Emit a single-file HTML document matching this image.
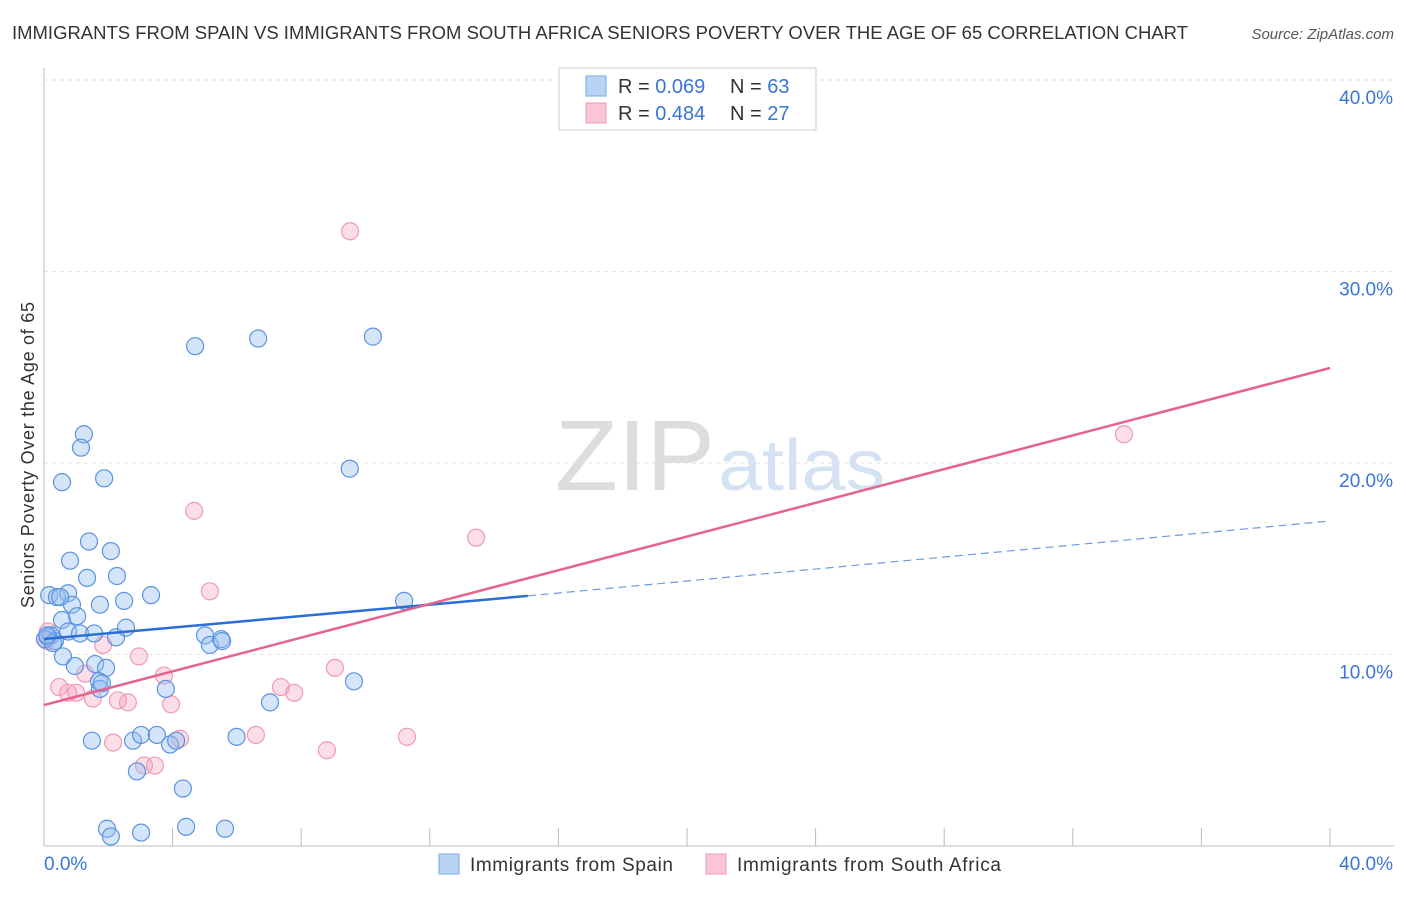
<!DOCTYPE html>
<html><head><meta charset="utf-8"><style>
body{margin:0;background:#fff;font-family:"Liberation Sans",sans-serif;}
svg text{font-family:"Liberation Sans",sans-serif;}
</style></head><body>
<svg id="c" width="1406" height="892">
<text x="12" y="39" font-size="18" fill="#333" textLength="1176" lengthAdjust="spacingAndGlyphs">IMMIGRANTS FROM SPAIN VS IMMIGRANTS FROM SOUTH AFRICA SENIORS POVERTY OVER THE AGE OF 65 CORRELATION CHART</text>
<text x="1394" y="39" font-size="15" fill="#555" font-style="italic" text-anchor="end">Source: ZipAtlas.com</text>
<text x="555" y="490" font-size="100" fill="#ddd" textLength="160" lengthAdjust="spacingAndGlyphs" font-family="Liberation Serif">ZIP</text>
<text x="718" y="490" font-size="72" fill="#d4e2f4" textLength="167" lengthAdjust="spacingAndGlyphs">atlas</text>
<text transform="translate(34,455) rotate(-90)" font-size="18" fill="#333" text-anchor="middle" textLength="306">Seniors Poverty Over the Age of 65</text>
<g id="grid"></g><g id="pts"></g><g id="lines"></g>
<g>
<rect x="559" y="68" width="257" height="62" fill="#fff" stroke="#ccc"/>
<rect x="586" y="76" width="20" height="20" fill="#b9d3f5" stroke="#7aaae8"/>
<rect x="586" y="103" width="20" height="20" fill="#f9c6d6" stroke="#ee9ab4"/>
<text x="618" y="93" font-size="20" fill="#333">R = <tspan fill="#3a75d6">0.069</tspan></text>
<text x="730" y="93" font-size="20" fill="#333">N = <tspan fill="#3a75d6">63</tspan></text>
<text x="618" y="120" font-size="20" fill="#333">R = <tspan fill="#3a75d6">0.484</tspan></text>
<text x="730" y="120" font-size="20" fill="#333">N = <tspan fill="#3a75d6">27</tspan></text>
</g>
<g>
<rect x="439" y="854" width="20" height="20" fill="#b9d3f5" stroke="#7aaae8"/>
<text x="470" y="871" font-size="19" fill="#333" textLength="203">Immigrants from Spain</text>
<rect x="706" y="854" width="20" height="20" fill="#f9c6d6" stroke="#ee9ab4"/>
<text x="737" y="871" font-size="19" fill="#333" textLength="264">Immigrants from South Africa</text>
</g>
</svg>
<script>
const yTicks=[10,20,30,40];
const xLabels=["0.0%","40.0%"];
const spainX=[0.16,0.40,0.75,0.87,0.56,0.12,0.22,0.34,0.59,0.96,0.75,1.03,1.12,1.34,1.40,1.24,1.15,0.56,1.87,0.81,2.08,2.27,1.74,2.49,1.56,2.24,2.55,3.33,1.59,1.93,1.71,1.74,1.80,3.79,1.49,2.77,3.02,3.51,3.92,4.11,2.89,4.32,1.96,2.08,3.02,4.42,5.63,4.70,6.66,10.23,9.51,11.20,5.01,5.16,5.51,5.54,9.64,7.03,5.99,0.50,0.03,0.28,0.10];
const spainY=[13.1,13.0,13.2,12.6,11.8,10.9,11.0,10.7,9.9,9.4,11.2,12.0,11.1,14.0,15.9,21.5,20.8,19.0,19.2,14.9,15.4,14.1,12.6,12.8,11.1,10.9,11.4,13.1,9.5,9.3,8.6,8.2,8.5,8.2,5.5,5.5,5.8,5.8,5.3,5.5,3.9,3.0,0.9,0.5,0.7,1.0,0.9,26.1,26.5,26.6,19.7,12.8,11.0,10.5,10.8,10.7,8.6,7.5,5.7,13.0,10.8,10.6,11.0];
const saX=[9.52,4.67,13.44,33.59,5.16,1.84,2.95,3.73,1.28,0.47,0.75,1.00,1.52,2.30,2.61,3.95,7.37,7.78,9.05,2.15,3.11,3.45,4.23,6.59,8.80,11.29,0.12,0.09];
const saY=[32.1,17.5,16.1,21.5,13.3,10.5,9.9,8.9,9.0,8.3,8.0,8.0,7.7,7.6,7.5,7.4,8.3,8.0,9.3,5.4,4.2,4.2,5.6,5.8,5.0,5.7,11.2,10.7];
const spainLine=[[0,10.81],[15.05,13.06],[40,16.97]];
const saLine=[[0,7.36],[40,24.96]];
const X=v=>44+v*32.15, Y=v=>846-v*19.15;
const NS="http://www.w3.org/2000/svg";
function mk(p,t,a){const e=document.createElementNS(NS,t);for(const k in a)e.setAttribute(k,a[k]);p.appendChild(e);return e;}
const g=document.getElementById('grid');
mk(g,'line',{x1:44,y1:68,x2:44,y2:846,stroke:'#bbb'});
mk(g,'line',{x1:44,y1:846,x2:1394,y2:846,stroke:'#bbb'});
for(let i=0;i<=10;i++){const t=mk(g,'line',{x1:44+i*128.6,y1:828,x2:44+i*128.6,y2:846,stroke:'#bbb'});

}
yTicks.forEach(v=>{mk(g,'line',{x1:44,y1:Y(v),x2:1394,y2:Y(v),stroke:'#e2e2e2','stroke-dasharray':'4,4'});
const t=mk(g,'text',{x:1393,y:Y(v)+24,'font-size':19,fill:'#3a75d6','text-anchor':'end'});t.textContent=v.toFixed(1)+'%';

});
const l0=mk(g,'text',{x:44,y:870,'font-size':19,fill:'#3a75d6'});l0.textContent=xLabels[0];


const l1=mk(g,'text',{x:1393,y:870,'font-size':19,fill:'#3a75d6','text-anchor':'end'});l1.textContent=xLabels[1];


const p=document.getElementById('pts');
saX.forEach((x,i)=>{const c=mk(p,'circle',{cx:X(x),cy:Y(saY[i]),r:8.5,fill:'rgba(244,160,188,0.35)',stroke:'#ef9ab5','stroke-width':1.2});

});
spainX.forEach((x,i)=>{const c=mk(p,'circle',{cx:X(x),cy:Y(spainY[i]),r:8.5,fill:'rgba(150,190,240,0.4)',stroke:'#5b93e0','stroke-width':1.2});

});
const L=document.getElementById('lines');
const b1=mk(L,'line',{x1:X(spainLine[0][0]),y1:Y(spainLine[0][1]),x2:X(spainLine[1][0]),y2:Y(spainLine[1][1]),stroke:'#2a6fd6','stroke-width':2.5});


const b2=mk(L,'line',{x1:X(spainLine[1][0]),y1:Y(spainLine[1][1]),x2:X(spainLine[2][0]),y2:Y(spainLine[2][1]),stroke:'#6c9be0','stroke-width':1.2,'stroke-dasharray':'8,5'});


const s1=mk(L,'line',{x1:X(saLine[0][0]),y1:Y(saLine[0][1]),x2:X(saLine[1][0]),y2:Y(saLine[1][1]),stroke:'#e4638f','stroke-width':2.5});


</script>
</body></html>
